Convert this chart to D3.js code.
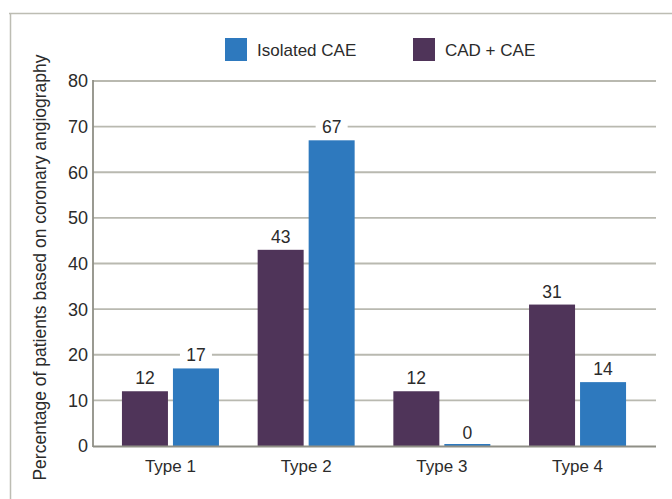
<!DOCTYPE html>
<html>
<head>
<meta charset="utf-8">
<script src="https://cdn.jsdelivr.net/npm/d3@7"></script>
<style>
  html, body { margin: 0; padding: 0; background: #fff; }
  svg { display: block; font-family: "Liberation Sans", Arial, Helvetica, sans-serif; }
</style>
</head>
<body>
<svg id="chart" width="672" height="499"></svg>
<script>
// Coronary artery ectasia types, percentage of patients per group
const categories = ["Type 1", "Type 2", "Type 3", "Type 4"];
const seriesNames = ["CAD + CAE", "Isolated CAE"];
const cadCae = [12, 43, 12, 31];
const isolatedCae = [17, 67, 0, 14];
const yTicks = [0, 10, 20, 30, 40, 50, 60, 70, 80];
const legendOrder = ["Isolated CAE", "CAD + CAE"];
const yTitle = "Percentage of patients based on coronary angiography";

const colors = { "Isolated CAE": "#2e79be", "CAD + CAE": "#4f3459" };
const seriesValues = { "CAD + CAE": cadCae, "Isolated CAE": isolatedCae };

const svg = d3.select("#chart");
const plot = { left: 93, right: 656, top: 81, bottom: 446 };

const y = d3.scaleLinear().domain([0, 80]).range([plot.bottom, plot.top]);
const x0 = d3.scaleBand().domain(categories).range([102.6, 645.4]).padding(0);
const groupW = 97;
const x1 = d3.scaleBand().domain(seriesNames).range([0, groupW]).paddingInner(0.098);

// Outer frame (top and left rules)
svg.append("line").attr("x1", 9).attr("x2", 672).attr("y1", 13.5).attr("y2", 13.5)
  .attr("stroke", "#bdbdb3").attr("stroke-width", 1.5);
svg.append("line").attr("x1", 10.5).attr("x2", 10.5).attr("y1", 13).attr("y2", 499)
  .attr("stroke", "#bdbdb3").attr("stroke-width", 1.5);

// Horizontal gridlines
svg.append("g").selectAll("line").data(yTicks.filter(d => d > 0)).join("line")
  .attr("x1", plot.left).attr("x2", plot.right)
  .attr("y1", d => y(d)).attr("y2", d => y(d))
  .attr("stroke", "#b9b9b0").attr("stroke-width", 1.8);

// Y axis line
svg.append("line").attr("x1", plot.left).attr("x2", plot.left)
  .attr("y1", plot.top - 1).attr("y2", plot.bottom + 1)
  .attr("stroke", "#8f8f86").attr("stroke-width", 1.8);

// Y tick labels
svg.append("g").selectAll("text").data(yTicks).join("text")
  .attr("x", 88).attr("y", d => y(d)).attr("dy", "0.36em")
  .attr("text-anchor", "end").attr("font-size", 18).attr("fill", "#2b2b2b")
  .text(d => d);

// Y axis title
svg.append("text")
  .attr("transform", `translate(46, ${(plot.top + plot.bottom) / 2 + 4}) rotate(-90)`)
  .attr("text-anchor", "middle").attr("font-size", 17.5).attr("fill", "#2b2b2b")
  .text(yTitle);

// Bars
const groups = svg.append("g").selectAll("g").data(categories).join("g")
  .attr("transform", d => `translate(${x0(d) + (x0.bandwidth() - groupW) / 2},0)`);

const cells = groups.selectAll("g").data((c, i) => seriesNames.map(s => ({ s, v: seriesValues[s][i] })))
  .join("g");

cells.append("rect")
  .attr("x", d => x1(d.s)).attr("width", x1.bandwidth())
  .attr("y", d => d.v === 0 ? y(0) - 2 : y(d.v))
  .attr("height", d => d.v === 0 ? 2 : y(0) - y(d.v))
  .attr("fill", d => colors[d.s]);

// Baseline drawn over bars
svg.append("line").attr("x1", plot.left).attr("x2", plot.right)
  .attr("y1", plot.bottom + 0.5).attr("y2", plot.bottom + 0.5)
  .attr("stroke", "#8f8f86").attr("stroke-width", 2);

// Value labels with white backing over gridlines
const labels = cells.append("g")
  .attr("transform", d => `translate(${x1(d.s) + x1.bandwidth() / 2}, ${y(d.v) - 7})`);
labels.append("rect")
  .attr("x", -16).attr("width", 32).attr("y", -15).attr("height", 18)
  .attr("fill", "#fff");
labels.append("text")
  .attr("text-anchor", "middle").attr("font-size", 17.5).attr("fill", "#2b2b2b")
  .text(d => d.v);

// Category labels
svg.append("g").selectAll("text").data(categories).join("text")
  .attr("x", d => x0(d) + x0.bandwidth() / 2).attr("y", 472)
  .attr("text-anchor", "middle").attr("font-size", 17).attr("fill", "#2b2b2b")
  .text(d => d);

// Legend
const legendX = [225, 413];
const legend = svg.append("g").selectAll("g").data(legendOrder).join("g")
  .attr("transform", (d, i) => `translate(${legendX[i]}, 38)`);
legend.append("rect").attr("width", 22).attr("height", 23).attr("fill", d => colors[d]);
legend.append("text").attr("x", 32).attr("y", 18).attr("font-size", 17)
  .attr("fill", "#2b2b2b").text(d => d);
</script>
</body>
</html>
